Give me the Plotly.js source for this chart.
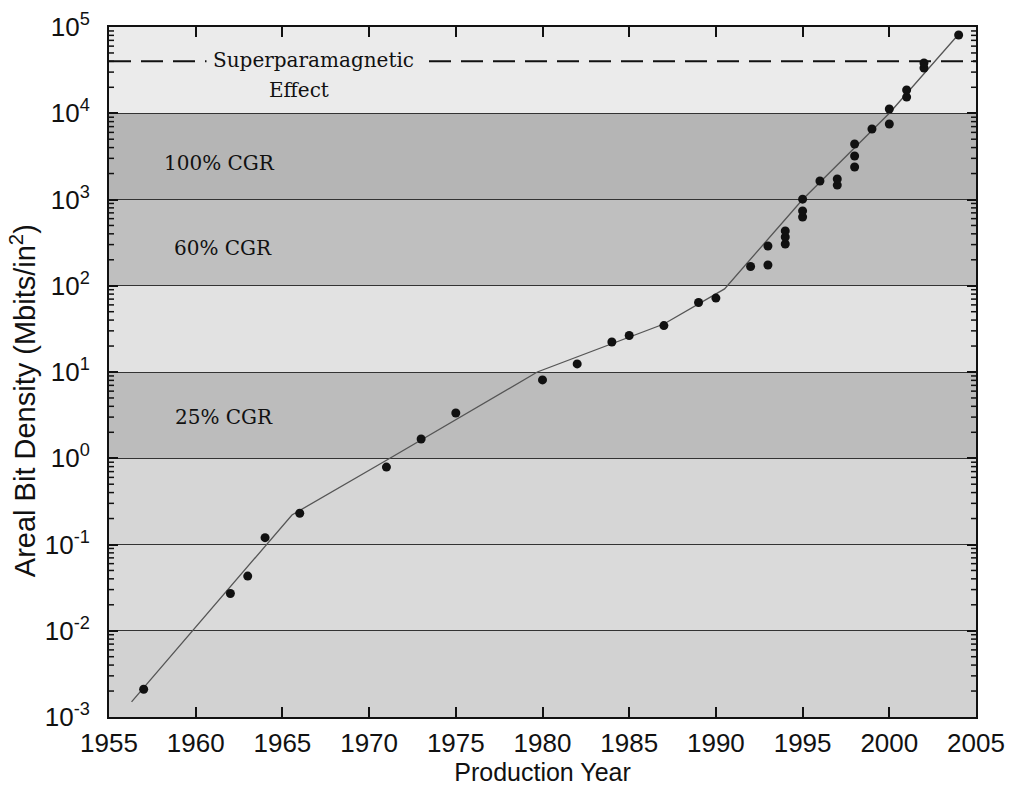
<!DOCTYPE html>
<html>
<head>
<meta charset="utf-8">
<script src="https://cdn.plot.ly/plotly-3.0.1.min.js"></script>
<style>
  html, body { margin: 0; padding: 0; background: #ffffff; }
  #chart { width: 1010px; height: 787px; }
</style>
</head>
<body>
<div id="chart"></div>
<script>
// Areal bit density of shipped disk drives by production year (Mbits/in^2)
const productionYears = [
  1957, 1962, 1963, 1964, 1966, 1971, 1973, 1975, 1980, 1982, 1984, 1985, 1987,
  1989, 1990, 1992, 1993, 1993, 1994, 1994, 1994, 1995, 1995, 1995, 1996,
  1997, 1997, 1998, 1998, 1998, 1999, 2000, 2000, 2001, 2001, 2002, 2002, 2004
];
const arealDensity = [
  0.0021, 0.027, 0.043, 0.12, 0.23, 0.79, 1.67, 3.35, 8.1, 12.4, 22.3, 26.5, 34.5,
  64, 72, 167, 174, 289, 305, 367, 432, 627, 737, 1010, 1640,
  1470, 1730, 2380, 3190, 4400, 6560, 7500, 11200, 15400, 18600, 33500, 38300, 80700
];

// Growth trend drawn through the data
const trendYears = [1956.3, 1965.55, 1971.2, 1979.7, 1987, 1990.5, 1995, 2000, 2004.1];
const trendDensity = [0.0015, 0.22, 1.0, 10, 36, 92, 1000, 10000, 87000];

// Superparamagnetic limit (Mbits/in^2)
const superparamagneticLimit = 40000;

// Decade bands (log10 of lower edge) and their labels
const bandLowExp = [-3, -2, -1, 0, 1, 2, 3, 4];
const bandLabels = ['', '', '', '25% CGR', '', '60% CGR', '100% CGR', ''];

// Axis tick labels
const xTickVals = [1955, 1960, 1965, 1970, 1975, 1980, 1985, 1990, 1995, 2000, 2005];
const yTickExp = [-3, -2, -1, 0, 1, 2, 3, 4, 5];

const X_RANGE = [1955, 2005];
const Y_RANGE = [-3, 5];
const PLOT_W = 867;   // plot area width in px (1010 - 109 - 34)

const bandFill = ['#d2d2d2', '#dadada', '#d6d6d6', '#bcbcbc', '#e2e2e2', '#bfbfbf', '#b5b5b5', '#ebebeb'];

const shapes = bandLowExp.map((e, i) => ({
  type: 'rect', layer: 'below', xref: 'paper', yref: 'y',
  x0: 0, x1: 1, y0: Math.pow(10, e), y1: Math.pow(10, e + 1),
  fillcolor: bandFill[i], line: { width: 0 }
}));

// Minor tick marks (2..9 of each decade) on the left and right frame edges
const yearsPerPx = (X_RANGE[1] - X_RANGE[0]) / PLOT_W;
const minorTickVals = [];
bandLowExp.forEach(e => {
  for (let m = 2; m <= 9; m++) minorTickVals.push(m * Math.pow(10, e));
});
minorTickVals.forEach(v => {
  [[X_RANGE[0], 1], [X_RANGE[1], -1]].forEach(([edge, dir]) => {
    shapes.push({
      type: 'line', layer: 'above', xref: 'x', yref: 'y',
      x0: edge, x1: edge + dir * 5 * yearsPerPx, y0: v, y1: v,
      line: { color: '#111', width: 1.5 }
    });
  });
});

const labelPos = { '25% CGR': 0.435, '60% CGR': 0.680, '100% CGR': 0.803 };
const labelX = { '25% CGR': 0.133, '60% CGR': 0.131, '100% CGR': 0.128 };
const serif = { family: 'DejaVu Serif, Liberation Serif, serif', size: 20, color: '#111' };

const annotations = bandLabels.filter(t => t).map(t => ({
  text: t, xref: 'paper', yref: 'paper', x: labelX[t], y: labelPos[t],
  showarrow: false, font: serif, xanchor: 'center', yanchor: 'middle'
}));
annotations.push({
  text: 'Superparamagnetic', xref: 'paper', yref: 'paper', x: 0.236, y: 0.952,
  showarrow: false, font: serif, xanchor: 'center', yanchor: 'middle',
  bgcolor: bandFill[7], borderpad: 6
});
annotations.push({
  text: 'Effect', xref: 'paper', yref: 'paper', x: 0.219, y: 0.909,
  showarrow: false, font: serif, xanchor: 'center', yanchor: 'middle'
});
// Vertical axis title, placed beside the tick labels
annotations.push({
  text: 'Areal Bit Density (Mbits/in<sup>2</sup>)', xref: 'paper', yref: 'paper',
  x: -0.099, y: 0.458, textangle: -90, showarrow: false,
  xanchor: 'center', yanchor: 'middle',
  font: { family: 'Liberation Sans, Arial, sans-serif', size: 29, color: '#111' }
});

const axisFont = { family: 'Liberation Sans, Arial, sans-serif', size: 26, color: '#111' };

const traces = [
  {
    x: X_RANGE, y: [superparamagneticLimit, superparamagneticLimit],
    type: 'scatter', mode: 'lines',
    line: { color: '#111', width: 2, dash: '22px,10px' },
    hoverinfo: 'skip', showlegend: false
  },
  {
    x: trendYears, y: trendDensity, type: 'scatter', mode: 'lines',
    line: { color: '#555', width: 1.3 }, showlegend: false
  },
  {
    x: productionYears, y: arealDensity, type: 'scatter', mode: 'markers',
    marker: { color: '#111', size: 9, symbol: 'circle' }, showlegend: false
  }
];

const layout = {
  width: 1010, height: 787,
  margin: { l: 109, r: 34, t: 27, b: 70 },
  paper_bgcolor: '#ffffff', plot_bgcolor: '#dddddd',
  showlegend: false,
  xaxis: {
    range: X_RANGE, tickvals: xTickVals, ticktext: xTickVals.map(String),
    ticks: 'inside', ticklen: 10, tickwidth: 2, tickcolor: '#111',
    showline: true, linewidth: 2, linecolor: '#111', mirror: 'ticks',
    showgrid: false, zeroline: false, tickfont: axisFont, ticklabelstandoff: 2,
    title: { text: 'Production Year', font: { family: 'Liberation Sans, Arial, sans-serif', size: 25, color: '#111' }, standoff: 2 }
  },
  yaxis: {
    type: 'log', range: Y_RANGE,
    tickvals: yTickExp.map(e => Math.pow(10, e)),
    ticktext: yTickExp.map(e => '10<sup>' + e + '</sup>'),
    ticks: 'inside', ticklen: 9, tickwidth: 2, tickcolor: '#111',
    showline: true, linewidth: 2, linecolor: '#111', mirror: 'ticks',
    showgrid: true, gridcolor: '#333', gridwidth: 1, zeroline: false,
    tickfont: axisFont, ticklabelstandoff: 12
  },
  shapes: shapes,
  annotations: annotations
};

Plotly.newPlot('chart', traces, layout, { staticPlot: true, displayModeBar: false });
</script>
</body>
</html>
